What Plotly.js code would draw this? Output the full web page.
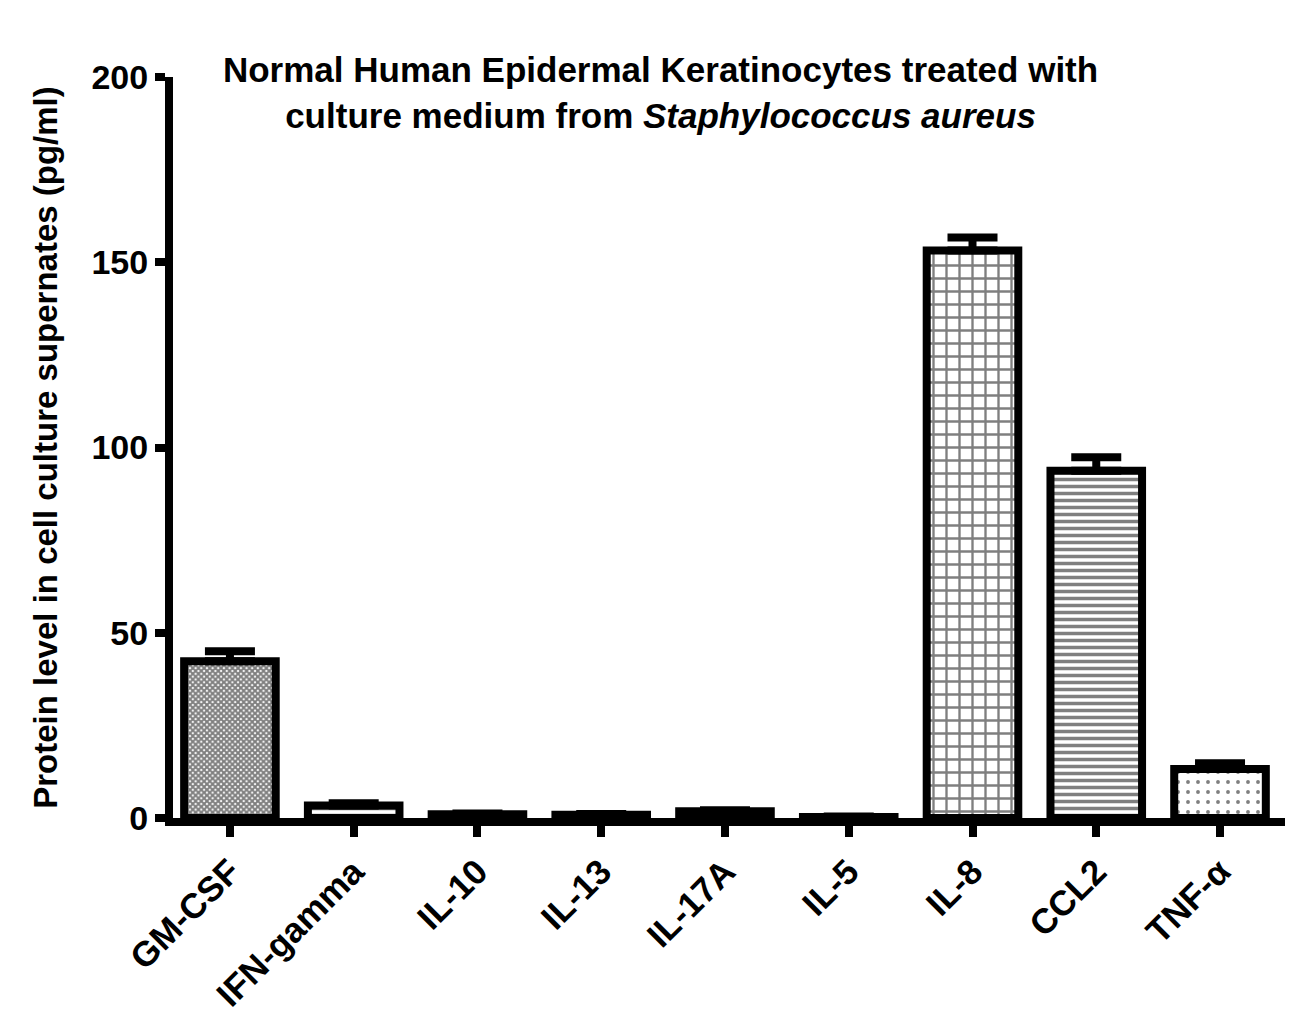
<!DOCTYPE html>
<html>
<head>
<meta charset="utf-8">
<script src="https://cdn.plot.ly/plotly-3.0.1.min.js"></script>
<style>html,body{margin:0;padding:0;background:#fff;}#chart{width:1308px;height:1026px;}</style>
</head>
<body>
<div id="chart"></div>
<script>
const categories = ["GM-CSF", "IFN-gamma", "IL-10", "IL-13", "IL-17A", "IL-5", "IL-8", "CCL2", "TNF-α"];
const means = [42.3, 3.4, 1.0, 0.9, 1.8, 0.3, 153.2, 93.7, 13.2];
const sems = [2.7, 0.6, 0.2, 0.2, 0.3, 0.1, 3.5, 3.7, 1.6];
const yTicks = [0, 50, 100, 150, 200];

const FONT = "Liberation Sans, Arial, Helvetica, sans-serif";

const trace = {
  type: "bar",
  x: categories,
  y: means,
  width: 0.74,
  marker: {
    color: "white",
    line: {color: "black", width: 8},
    pattern: {
      shape: ["x", "-", "", "", "", "", "+", "-", "."],
      size: [4, 5, 6, 6, 6, 6, 13, 7, 10],
      solidity: [0.75, 0.3, 0.3, 0.3, 0.3, 0.3, 0.33, 0.5, 0.12],
      fgcolor: "black",
      bgcolor: "white",
      fillmode: "overlay"
    }
  },
  error_y: {
    type: "data",
    symmetric: false,
    array: sems,
    arrayminus: sems.map(() => 0),
    color: "black",
    thickness: 8,
    width: 25
  },
  hoverinfo: "x+y"
};

const layout = {
  width: 1308,
  height: 1026,
  paper_bgcolor: "white",
  plot_bgcolor: "white",
  margin: {l: 173, r: 23, t: 77, b: 208},
  showlegend: false,
  font: {family: FONT, color: "black"},
  title: {
    text: "Normal Human Epidermal Keratinocytes treated with<br>culture medium from <i>Staphylococcus aureus</i>",
    font: {family: FONT, size: 35, weight: "bold", color: "black"},
    x: 0.505,
    xanchor: "center",
    yref: "container",
    y: 0.92,
    yanchor: "top"
  },
  xaxis: {
    type: "category",
    range: [-0.46, 8.525],
    showline: true,
    linewidth: 8,
    linecolor: "black",
    ticks: "outside",
    ticklen: 11,
    tickwidth: 8,
    tickcolor: "black",
    tickangle: -45,
    tickfont: {family: FONT, size: 35, weight: "bold", color: "black"},
    showgrid: false,
    zeroline: false,
    fixedrange: true
  },
  yaxis: {
    range: [0, 200],
    tickvals: yTicks,
    ticktext: yTicks.map(String),
    showline: true,
    linewidth: 8,
    linecolor: "black",
    ticks: "outside",
    ticklen: 10,
    tickwidth: 8,
    tickcolor: "black",
    tickfont: {family: FONT, size: 34, weight: "bold", color: "black"},
    showgrid: false,
    zeroline: false,
    title: {
      text: "Protein level in cell culture supernates (pg/ml)",
      font: {family: FONT, size: 33, weight: "bold", color: "black"},
      standoff: 27
    },
    fixedrange: true
  }
};

Plotly.newPlot("chart", [trace], layout, {displayModeBar: false, staticPlot: true});
</script>
</body>
</html>
